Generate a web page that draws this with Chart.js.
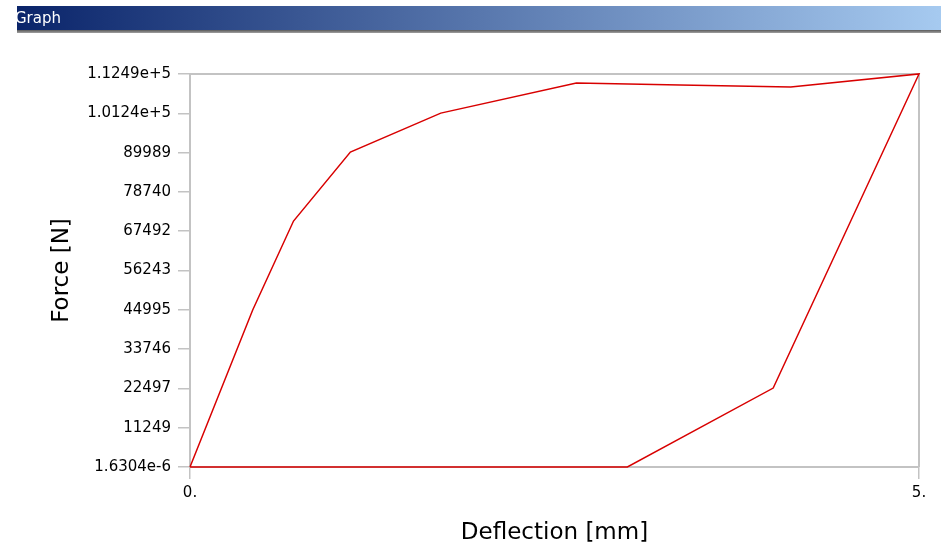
<!DOCTYPE html>
<html>
<head>
<meta charset="utf-8">
<script src="https://cdn.jsdelivr.net/npm/chart.js@4"></script>
<style>
  body { margin: 0; background: #fff; width: 941px; height: 548px; overflow: hidden; position: relative; }
  #bar { position: absolute; left: 17px; top: 6px; width: 924px; height: 24px;
         background: linear-gradient(to right, #0a246a, #a6caf0);
         color: #fff; font: 15px "DejaVu Sans", sans-serif; line-height: 24px; }
  #bar span { margin-left: -2px; }
  #rule { position: absolute; left: 17px; top: 30px; width: 924px; height: 3px;
          background: linear-gradient(to bottom, #5a5a5a, #a0a0a0); }
  #wrap { position: absolute; left: 0; top: 0; width: 941px; height: 548px; }
</style>
</head>
<body>
<div id="wrap"><canvas id="graph"></canvas></div>
<div id="bar"><span>Graph</span></div>
<div id="rule"></div>
<script>
// load / unload loop
var deflection = [0, 0.43, 0.71, 1.10, 1.72, 2.65, 3.36, 4.12, 5.0, 4.0, 3.0, 0];
var force = [0, 44950, 70400, 90150, 101300, 109900, 109350, 108750, 112490, 22600, 1.6304e-6, 1.6304e-6];

var xTickValues = [0, 5];
var xTickLabels = ["0.", "5."];
var yTickValues = [1.6304e-6, 11249, 22497, 33746, 44995, 56243, 67492, 78740, 89989, 101240, 112490];
var yTickLabels = ["1.6304e-6", "11249", "22497", "33746", "44995", "56243", "67492", "78740", "89989", "1.0124e+5", "1.1249e+5"];

var frameColor = "#c3c3c3";

// top and right edges of the plot box
var framePlugin = {
    id: "frame",
    beforeDatasetsDraw: function (chart) {
        var ctx = chart.ctx;
        var a = chart.chartArea;
        ctx.save();
        ctx.strokeStyle = frameColor;
        ctx.lineWidth = 2;
        ctx.beginPath();
        ctx.moveTo(a.left, a.top);
        ctx.lineTo(a.right, a.top);
        ctx.lineTo(a.right, a.bottom);
        ctx.stroke();
        ctx.restore();
    }
};

var points = deflection.map(function (d, i) { return { x: d, y: force[i] }; });

var ctx = document.getElementById("graph");
new Chart(ctx, {
    type: "scatter",
    data: {
        datasets: [{
            data: points,
            showLine: true,
            borderColor: "#d80000",
            borderWidth: 1.5,
            pointRadius: 0,
            fill: false,
            clip: 4
        }]
    },
    options: {
        responsive: true,
        maintainAspectRatio: false,
        animation: false,
        layout: { padding: { top: 74, right: 22, left: 0, bottom: 0 } },
        plugins: { legend: { display: false }, tooltip: { enabled: false } },
        scales: {
            x: {
                type: "linear",
                min: 0,
                max: 5,
                afterBuildTicks: function (scale) {
                    scale.ticks = xTickValues.map(function (v) { return { value: v }; });
                },
                afterFit: function (scale) { scale.height = 81; },
                ticks: {
                    callback: function (v, i) { return xTickLabels[i]; },
                    color: "#000",
                    font: { family: "DejaVu Sans", size: 15 },
                    padding: 5,
                    maxRotation: 0
                },
                grid: { drawOnChartArea: false, color: frameColor, lineWidth: 1.5, tickLength: 12 },
                border: { color: frameColor, width: 2 },
                title: {
                    display: true,
                    text: "Deflection [mm]",
                    color: "#000",
                    font: { family: "DejaVu Sans", size: 23 },
                    padding: { top: 0, bottom: 1 }
                }
            },
            y: {
                type: "linear",
                min: 1.6304e-6,
                max: 112490,
                afterBuildTicks: function (scale) {
                    scale.ticks = yTickValues.map(function (v) { return { value: v }; });
                },
                afterFit: function (scale) { scale.width = 190; },
                ticks: {
                    callback: function (v, i) { return yTickLabels[i]; },
                    color: "#000",
                    font: { family: "DejaVu Sans", size: 15 },
                    padding: 7
                },
                grid: { drawOnChartArea: false, color: frameColor, lineWidth: 1.5, tickLength: 12 },
                border: { color: frameColor, width: 2 },
                title: {
                    display: true,
                    text: "Force [N]",
                    color: "#000",
                    font: { family: "DejaVu Sans", size: 23 },
                    padding: { top: 48, bottom: 0 }
                }
            }
        }
    },
    plugins: [framePlugin]
});
</script>
</body>
</html>
